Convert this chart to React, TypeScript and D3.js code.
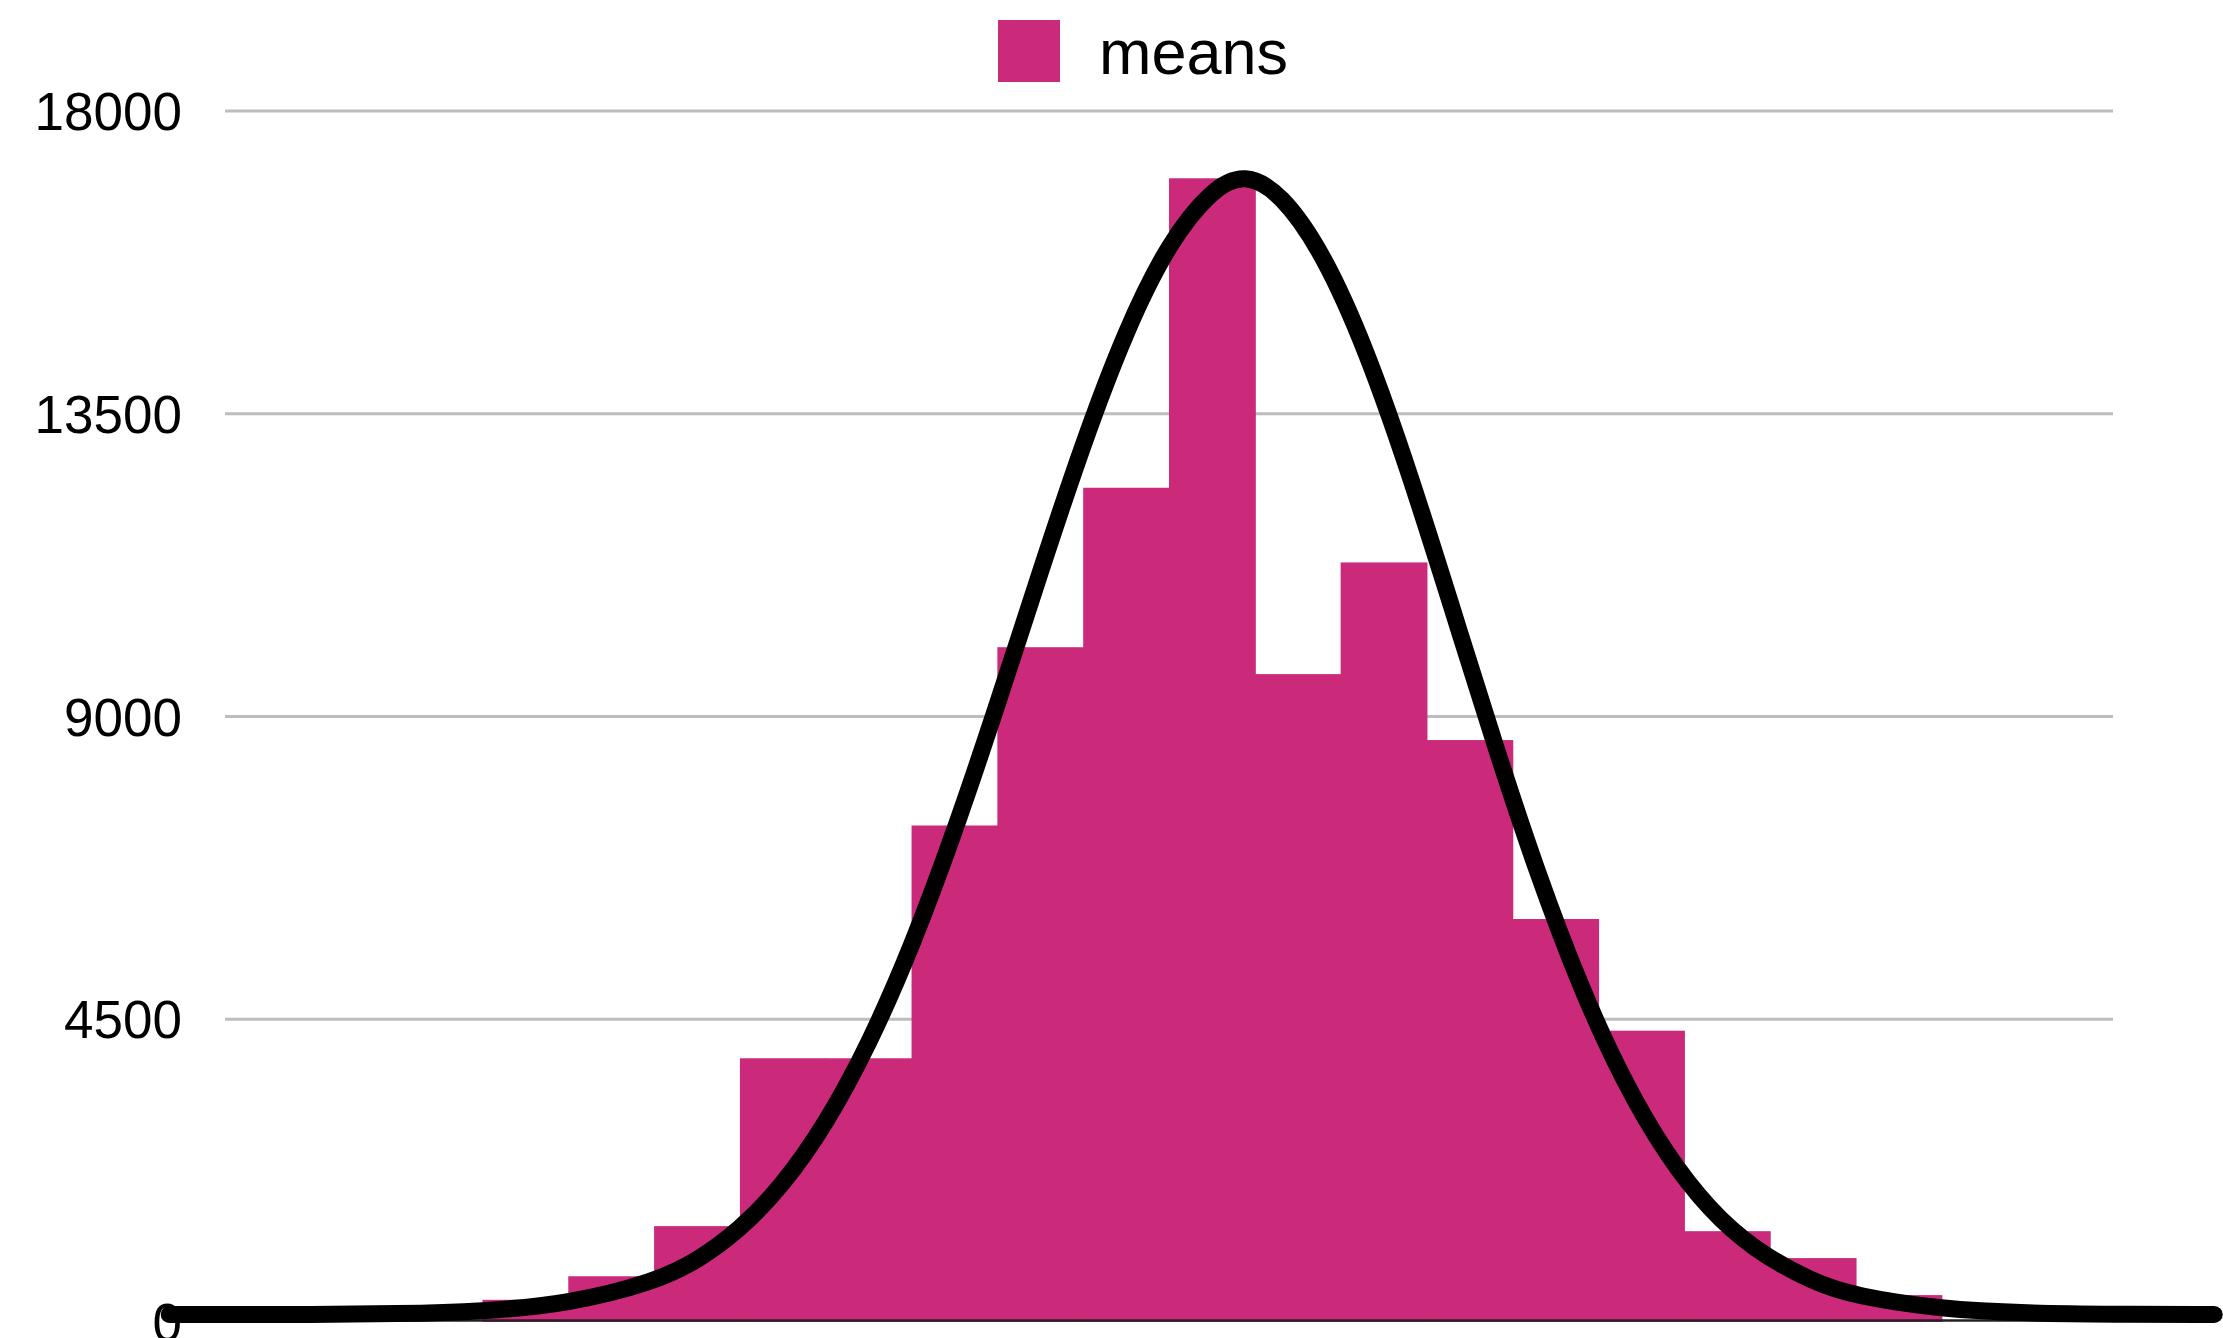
import React from "react";
import * as d3 from "d3";

// Histogram bins (22 slots; no visible x labels)
const binLabels: string[] = Array.from({ length: 22 }, (_, i) => `b${i + 1}`);
const binCounts: number[] = [
  0, 0, 0, 330, 680, 1425, 3920, 3920, 7380, 10030, 12400, 17000,
  9630, 11290, 8650, 5990, 4330, 1350, 950, 400, 0, 0,
];

// Fitted curve (x in bin units from the plot's left edge)
const curveX: number[] = [
  -0.65, 0, 1, 2, 3, 4, 5, 5.5, 6, 6.5, 7, 7.5, 8, 8.5, 9, 9.5, 10, 10.5, 11, 11.5, 11.88,
  12.3, 12.8, 13.3, 13.8, 14.3, 14.8, 15.3, 15.8, 16.3, 16.8, 17.3, 17.8, 18.5, 19, 20, 21, 22, 23.18, 23.18,
];
const curveY: number[] = [
  110, 110, 112, 121, 155, 269, 593, 904, 1369, 2030, 2936, 4110, 5565, 7276, 9173, 11152, 13069, 14757,
  16055, 16840, 17080,
  16790, 15886, 14455, 12633, 10608, 8560, 6638, 4955, 3563, 2471, 1661, 1089, 589, 384, 189, 130,
  115, 112, 112,
];

const yTicks: number[] = [0, 4500, 9000, 13500, 18000];
const seriesName = "means";

const W = 2223;
const H = 1338;
const BAR_COLOR = "#cb2a7b";
const FONT = "'Liberation Sans', Arial, Helvetica, sans-serif";

export default function App() {
  const left = 225;
  const right = 2113;
  const y0 = 1322;
  const yTop = 111;

  const x = d3.scaleBand<string>().domain(binLabels).range([left, right]).padding(0);
  const xLin = d3.scaleLinear().domain([0, binLabels.length]).range([left, right]);
  const y = d3.scaleLinear().domain([0, 18000]).range([y0, yTop]);

  const pts: [number, number][] = curveX.map((u, i) => [u, curveY[i]]);
  const line = d3
    .line<[number, number]>()
    .x((d) => xLin(d[0]))
    .y((d) => y(d[1]))
    .curve(d3.curveBasis);

  return (
    <svg
      width={W}
      height={H}
      style={{ position: "absolute", left: 0, top: 0, display: "block", background: "#fff" }}
    >
      <rect x={0} y={0} width={W} height={H} fill="#fff" />
      {/* gridlines */}
      {yTicks
        .filter((t) => t > 0)
        .map((t) => (
          <line key={t} x1={left} x2={right} y1={y(t)} y2={y(t)} stroke="#bdbdbd" strokeWidth={3} />
        ))}
      {/* bars */}
      {binCounts.map((v, i) =>
        v > 0 ? (
          <rect
            key={i}
            x={x(binLabels[i])!}
            y={y(v)}
            width={x.bandwidth() + 1}
            height={y0 - y(v)}
            fill={BAR_COLOR}
          />
        ) : null
      )}
      {/* baseline */}
      <line x1={left} x2={right} y1={y(0) - 1.5} y2={y(0) - 1.5} stroke="#222" strokeWidth={2.5} />
      {/* y labels */}
      {yTicks.map((t) => (
        <text
          key={t}
          x={182}
          y={y(t) + 19}
          textAnchor="end"
          fontFamily={FONT}
          fontSize={53}
          fill="#000"
        >
          {t}
        </text>
      ))}
      {/* curve */}
      <path
        d={line(pts) || ""}
        fill="none"
        stroke="#000"
        strokeWidth={17}
        strokeLinecap="round"
        strokeLinejoin="round"
      />
      {/* legend */}
      <rect x={998} y={20} width={62} height={62} fill={BAR_COLOR} />
      <text x={1099} y={74} fontFamily={FONT} fontSize={63} fill="#000">
        {seriesName}
      </text>
    </svg>
  );
}
